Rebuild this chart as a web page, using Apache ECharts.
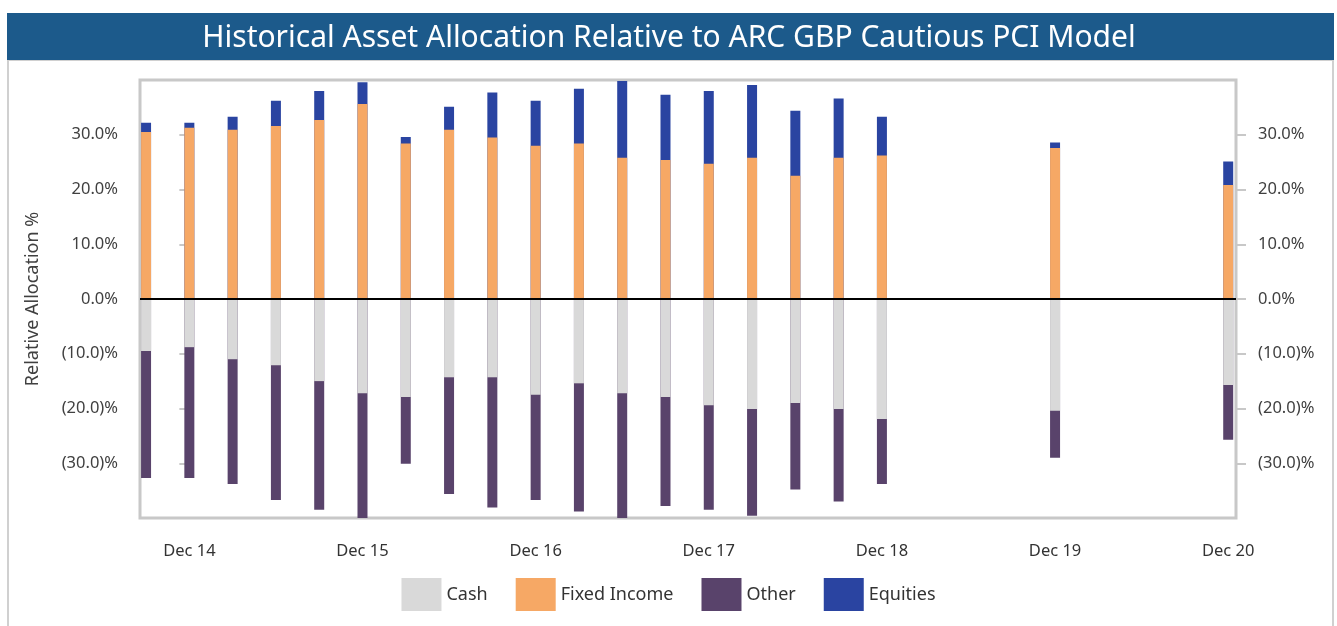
<!DOCTYPE html>
<html lang="en">
<head>
	<meta charset="UTF-8">
	<title>Historical Asset Allocation</title>
	<style>
		html,body{margin:0;padding:0;background:#fff;}
		#main{width:1337px;height:626px;}
	</style>
</head>
<body>
	<div id="main"></div>
	<script src="https://cdn.jsdelivr.net/npm/echarts@6.0.0/dist/echarts.min.js"></script>
	<script>
		// quarter-end of each bar
		var dates = ['Sep 14','Dec 14','Mar 15','Jun 15','Sep 15','Dec 15','Mar 16','Jun 16','Sep 16','Dec 16',
			'Mar 17','Jun 17','Sep 17','Dec 17','Mar 18','Jun 18','Sep 18','Dec 18','Dec 19','Dec 20'];
		var cash = [-9.5,-8.8,-11.0,-12.1,-15.0,-17.2,-17.9,-14.3,-14.3,-17.5,-15.4,-17.2,-17.9,-19.4,-20.1,-19.0,-20.1,-21.9,-20.4,-15.7];
		var fixedIncome = [30.5,31.3,30.9,31.6,32.7,35.6,28.4,30.9,29.5,28.0,28.4,25.8,25.4,24.7,25.8,22.5,25.8,26.2,27.6,20.8];
		var other = [-23.2,-23.9,-22.8,-24.6,-23.5,-23.5,-12.2,-21.3,-23.8,-19.2,-23.4,-23.5,-19.9,-19.1,-19.5,-15.8,-16.9,-11.9,-8.6,-10.0];
		var equities = [1.7,0.9,2.4,4.6,5.3,4.0,1.2,4.2,8.2,8.2,10.0,14.0,11.9,13.3,13.3,11.9,10.8,7.1,1.0,4.3];
		var xTickLabels = ['Dec 14','Dec 15','Dec 16','Dec 17','Dec 18','Dec 19','Dec 20'];
		var yTicks = [-30,-20,-10,0,10,20,30];

		// quarter number, Dec 14 = 0
		function qIndex(lbl){
			var m = {Mar:1,Jun:2,Sep:3,Dec:4}[lbl.substr(0,3)];
			var y = 2000 + parseInt(lbl.substr(4),10);
			return (y-2014)*4 + m - 4;
		}
		// stacked segment: drawn from 0 to base+value, upper segment covers the rest
		function pairs(arr, base){
			var out=[];
			for(var i=0;i<arr.length;i++){
				out.push([qIndex(dates[i]), arr[i] + (base ? base[i] : 0)]);
			}
			return out;
		}
		var xTickVals = xTickLabels.map(qIndex);
		function xFmt(v){
			var i = xTickVals.indexOf(Math.round(v));
			return i>=0 ? xTickLabels[i] : '';
		}
		function pct(v){
			if(v<0) return '(' + (-v).toFixed(1) + ')%';
			return v.toFixed(1) + '%';
		}

		var font = 'Noto Sans';
		function yAx(pos){
			return {
				type:'value', position:pos, min:-40, max:40,
				name: pos=='left' ? 'Relative Allocation %' : '',
				nameLocation:'middle', nameGap:98,
				nameTextStyle:{color:'#404040',fontSize:18,fontFamily:font},
				axisLine:{show:false},
				axisTick:{show:true,length:10,customValues:yTicks,lineStyle:{color:'#c8c8c8',width:2}},
				axisLabel:{customValues:yTicks,margin:22,color:'#404040',fontSize:16.5,fontFamily:font,formatter:pct},
				splitLine:{show:false}
			};
		}

		var myChart = echarts.init(document.getElementById('main'));
		var bw = 10;
		var option = {
			animation:false,
			graphic:[
				{type:'rect',shape:{x:8,y:60,width:1325,height:580},style:{fill:'none',stroke:'#d0d0d0',lineWidth:2},z:-1},
				{type:'rect',shape:{x:7,y:13,width:1327,height:47},style:{fill:'#1c5a8b'}},
				{type:'text',x:669,y:38,style:{text:'Historical Asset Allocation Relative to ARC GBP Cautious PCI Model',
					fill:'#fff',font:'30px "Noto Sans"',align:'center',verticalAlign:'middle'}}
			],
			legend:{
				bottom:10, left:'center', itemWidth:40, itemHeight:33, itemGap:28,
				icon:'rect',
				textStyle:{color:'#333',fontSize:18,fontFamily:font},
				data:['Cash','Fixed Income','Other','Equities']
			},
			grid:{left:140,right:101,top:80,bottom:108,show:true,borderColor:'#c8c8c8',borderWidth:3,backgroundColor:'#fff'},
			xAxis:{
				type:'value', min:-1.14, max:24.18,
				axisLine:{show:false},
				axisTick:{show:true,length:10,customValues:xTickVals,lineStyle:{color:'#c8c8c8',width:3}},
				axisLabel:{customValues:xTickVals,margin:25,color:'#333',fontSize:16.5,fontFamily:font,formatter:xFmt},
				splitLine:{show:false}
			},
			yAxis:[yAx('left'), yAx('right')],
			series:[
				{name:'Other',type:'bar',barWidth:bw,barGap:'-100%',z:2,itemStyle:{color:'#59436b'},data:pairs(other, cash)},
				{name:'Equities',type:'bar',barWidth:bw,barGap:'-100%',z:2,itemStyle:{color:'#2a44a1'},data:pairs(equities, fixedIncome)},
				{name:'Cash',type:'bar',barWidth:bw,barGap:'-100%',z:3,itemStyle:{color:'#d9d9d9'},data:pairs(cash),
					markLine:{silent:true,symbol:'none',label:{show:false},lineStyle:{color:'#000',width:2,type:'solid'},data:[{yAxis:0}]}},
				{name:'Fixed Income',type:'bar',barWidth:bw,barGap:'-100%',z:3,itemStyle:{color:'#f6a865'},data:pairs(fixedIncome)}
			]
		};
		myChart.setOption(option);
	</script>
</body>
</html>
